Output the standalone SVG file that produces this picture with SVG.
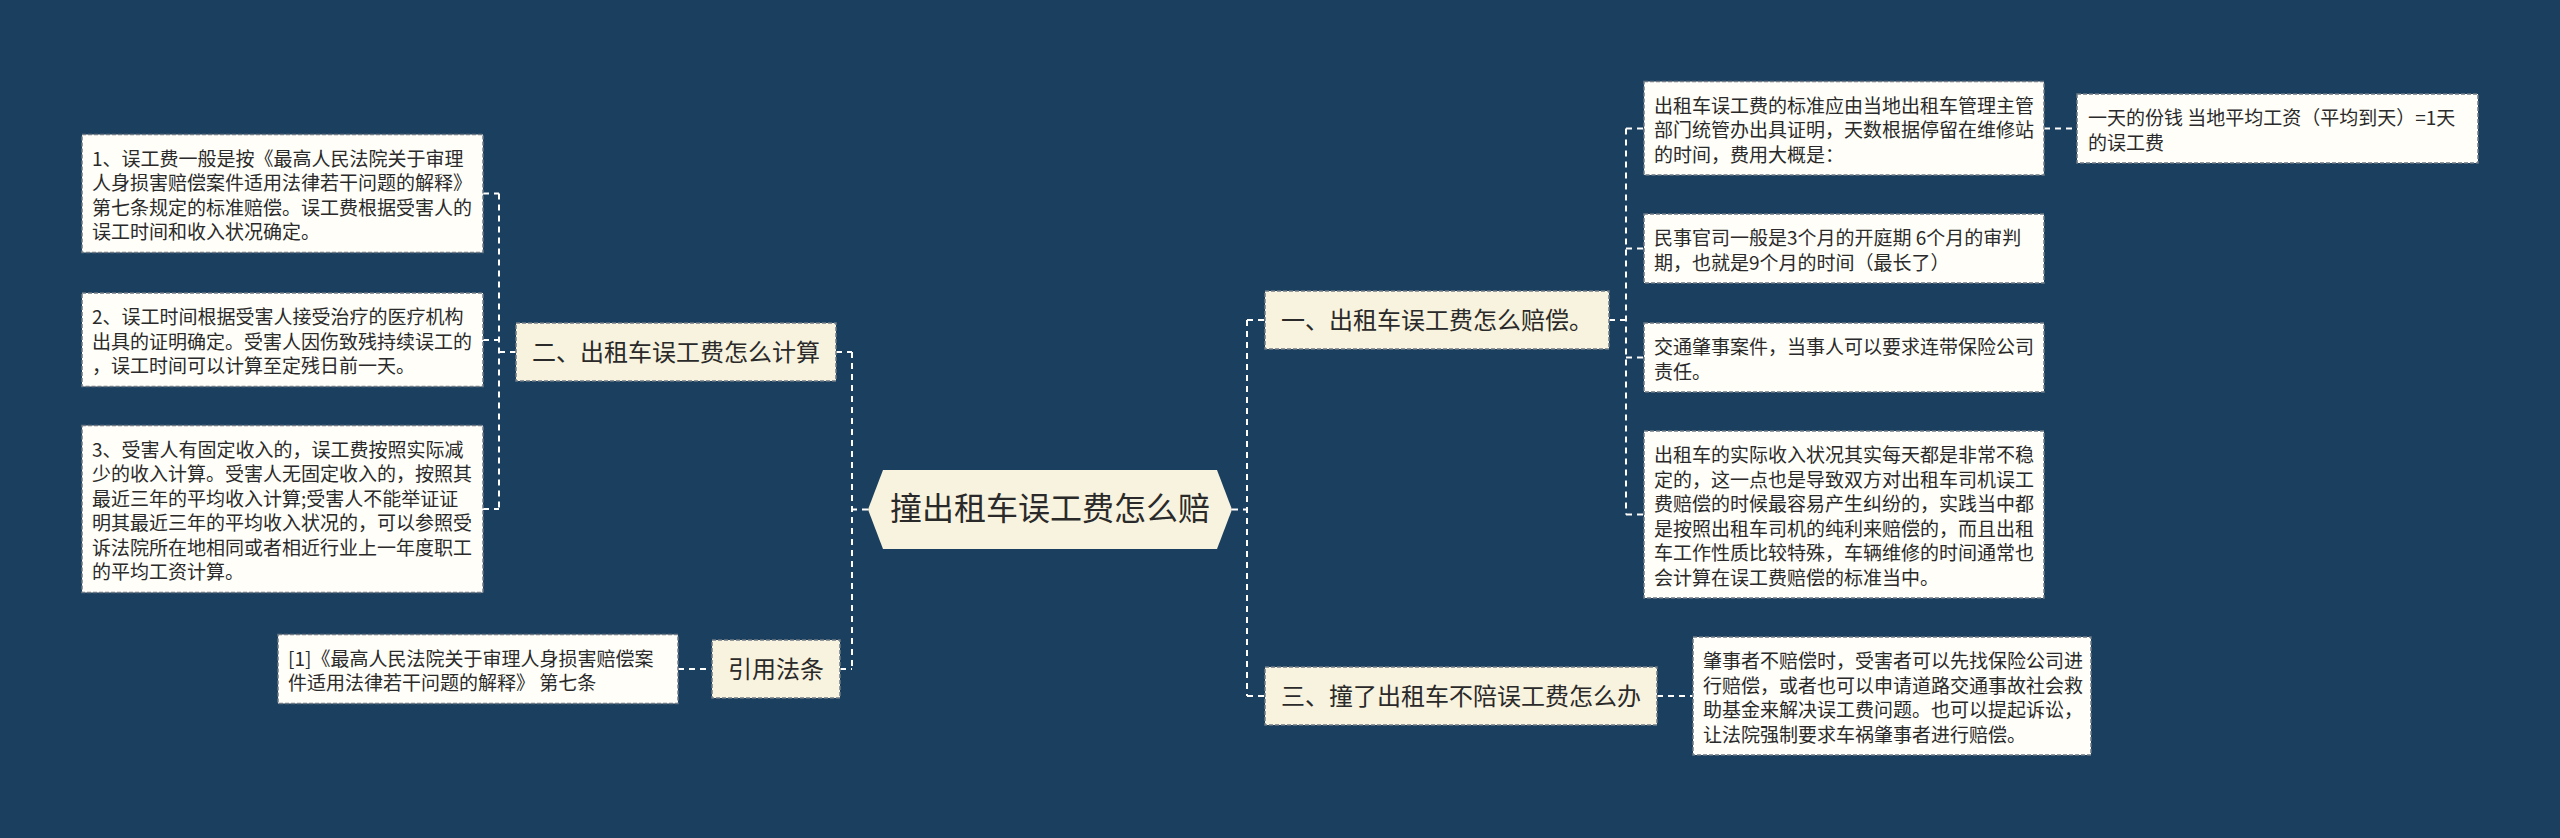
<svg xmlns="http://www.w3.org/2000/svg" width="2560" height="838" viewBox="0 0 2560 838">
<style>
.bg{fill:#1a3f5f}
.l1{fill:#f8f3de;stroke:#6f7a84;stroke-width:1.5;stroke-dasharray:4 2}
.lf{fill:#fffef8;stroke:#6f7a84;stroke-width:1.5;stroke-dasharray:4 2}
.ct{fill:#f8f3de}
.t{font-family:"Noto Sans CJK SC","Noto Sans",sans-serif;fill:#2a2a2a}
.s{font-size:19px}
.m{font-size:24px;text-anchor:middle}
.b{font-size:32px;text-anchor:middle}
.cn{fill:none;stroke:#ffffff;stroke-width:2;stroke-dasharray:6 5}
</style>
<rect class="bg" x="0" y="0" width="2560" height="838"/>
<g id="connectors">
<path class="cn" d="M868,509.5 H852"/>
<path class="cn" d="M852,352 V669"/>
<path class="cn" d="M836,352 H852"/>
<path class="cn" d="M840,669 H852"/>
<path class="cn" d="M516,352 H499"/>
<path class="cn" d="M499,193.5 V509"/>
<path class="cn" d="M483,193.5 H499"/>
<path class="cn" d="M483,340 H499"/>
<path class="cn" d="M483,509 H499"/>
<path class="cn" d="M678,669 H712"/>
<path class="cn" d="M1232,509.5 H1247"/>
<path class="cn" d="M1247,320 V696"/>
<path class="cn" d="M1247,320 H1265"/>
<path class="cn" d="M1247,696 H1265"/>
<path class="cn" d="M1609,320 H1626"/>
<path class="cn" d="M1626,128.5 V514.5"/>
<path class="cn" d="M1626,128.5 H1644"/>
<path class="cn" d="M1626,248.5 H1644"/>
<path class="cn" d="M1626,357.5 H1644"/>
<path class="cn" d="M1626,514.5 H1644"/>
<path class="cn" d="M2044,128.5 H2077"/>
<path class="cn" d="M1657,696 H1693"/>
</g>
<g id="center">
<polygon class="ct" points="868,509.5 883,470 1217,470 1232,509.5 1217,549 883,549"/>
<text class="t b" x="1050" y="520">撞出租车误工费怎么赔</text>
</g>
<g id="n2">
<rect class="l1" x="516" y="323" width="320" height="58"/>
<text class="t m" x="676" y="360.5">二、出租车误工费怎么计算</text>
</g>
<g id="n2a">
<rect class="lf" x="82" y="134.5" width="401" height="118"/>
<text class="t s" x="92" y="165.5">1、误工费一般是按《最高人民法院关于审理</text>
<text class="t s" x="92" y="190">人身损害赔偿案件适用法律若干问题的解释》</text>
<text class="t s" x="92" y="214.5">第七条规定的标准赔偿。误工费根据受害人的</text>
<text class="t s" x="92" y="239">误工时间和收入状况确定。</text>
</g>
<g id="n2b">
<rect class="lf" x="82" y="293" width="401" height="93.5"/>
<text class="t s" x="92" y="324">2、误工时间根据受害人接受治疗的医疗机构</text>
<text class="t s" x="92" y="348.5">出具的证明确定。受害人因伤致残持续误工的</text>
<text class="t s" x="92" y="373">，误工时间可以计算至定残日前一天。</text>
</g>
<g id="n2c">
<rect class="lf" x="82" y="425.5" width="401" height="167"/>
<text class="t s" x="92" y="456.5">3、受害人有固定收入的，误工费按照实际减</text>
<text class="t s" x="92" y="481">少的收入计算。受害人无固定收入的，按照其</text>
<text class="t s" x="92" y="505.5">最近三年的平均收入计算;受害人不能举证证</text>
<text class="t s" x="92" y="530">明其最近三年的平均收入状况的，可以参照受</text>
<text class="t s" x="92" y="554.5">诉法院所在地相同或者相近行业上一年度职工</text>
<text class="t s" x="92" y="579">的平均工资计算。</text>
</g>
<g id="n3">
<rect class="l1" x="712" y="640" width="128" height="58"/>
<text class="t m" x="776" y="677.5">引用法条</text>
</g>
<g id="n3a">
<rect class="lf" x="278" y="634.5" width="400" height="69"/>
<text class="t s" x="288" y="665.5">[1]《最高人民法院关于审理人身损害赔偿案</text>
<text class="t s" x="288" y="690">件适用法律若干问题的解释》 第七条</text>
</g>
<g id="n1">
<rect class="l1" x="1265" y="291" width="344" height="58"/>
<text class="t m" x="1437" y="328.5">一、出租车误工费怎么赔偿。</text>
</g>
<g id="n1a">
<rect class="lf" x="1644" y="81.5" width="400" height="93.5"/>
<text class="t s" x="1654" y="112.5">出租车误工费的标准应由当地出租车管理主管</text>
<text class="t s" x="1654" y="137">部门统管办出具证明，天数根据停留在维修站</text>
<text class="t s" x="1654" y="161.5">的时间，费用大概是：</text>
</g>
<g id="n1a1">
<rect class="lf" x="2077" y="94" width="401" height="69"/>
<text class="t s" x="2088" y="125">一天的份钱 当地平均工资（平均到天）=1天</text>
<text class="t s" x="2088" y="149.5">的误工费</text>
</g>
<g id="n1b">
<rect class="lf" x="1644" y="214" width="400" height="69"/>
<text class="t s" x="1654" y="245">民事官司一般是3个月的开庭期 6个月的审判</text>
<text class="t s" x="1654" y="269.5">期，也就是9个月的时间（最长了）</text>
</g>
<g id="n1c">
<rect class="lf" x="1644" y="323" width="400" height="69"/>
<text class="t s" x="1654" y="354">交通肇事案件，当事人可以要求连带保险公司</text>
<text class="t s" x="1654" y="378.5">责任。</text>
</g>
<g id="n1d">
<rect class="lf" x="1644" y="431" width="400" height="167"/>
<text class="t s" x="1654" y="462">出租车的实际收入状况其实每天都是非常不稳</text>
<text class="t s" x="1654" y="486.5">定的，这一点也是导致双方对出租车司机误工</text>
<text class="t s" x="1654" y="511">费赔偿的时候最容易产生纠纷的，实践当中都</text>
<text class="t s" x="1654" y="535.5">是按照出租车司机的纯利来赔偿的，而且出租</text>
<text class="t s" x="1654" y="560">车工作性质比较特殊，车辆维修的时间通常也</text>
<text class="t s" x="1654" y="584.5">会计算在误工费赔偿的标准当中。</text>
</g>
<g id="n4">
<rect class="l1" x="1265" y="667" width="392" height="58"/>
<text class="t m" x="1461" y="704.5">三、撞了出租车不陪误工费怎么办</text>
</g>
<g id="n4a">
<rect class="lf" x="1693" y="637" width="398" height="118"/>
<text class="t s" x="1703" y="668">肇事者不赔偿时，受害者可以先找保险公司进</text>
<text class="t s" x="1703" y="692.5">行赔偿，或者也可以申请道路交通事故社会救</text>
<text class="t s" x="1703" y="717">助基金来解决误工费问题。也可以提起诉讼，</text>
<text class="t s" x="1703" y="741.5">让法院强制要求车祸肇事者进行赔偿。</text>
</g>
</svg>
